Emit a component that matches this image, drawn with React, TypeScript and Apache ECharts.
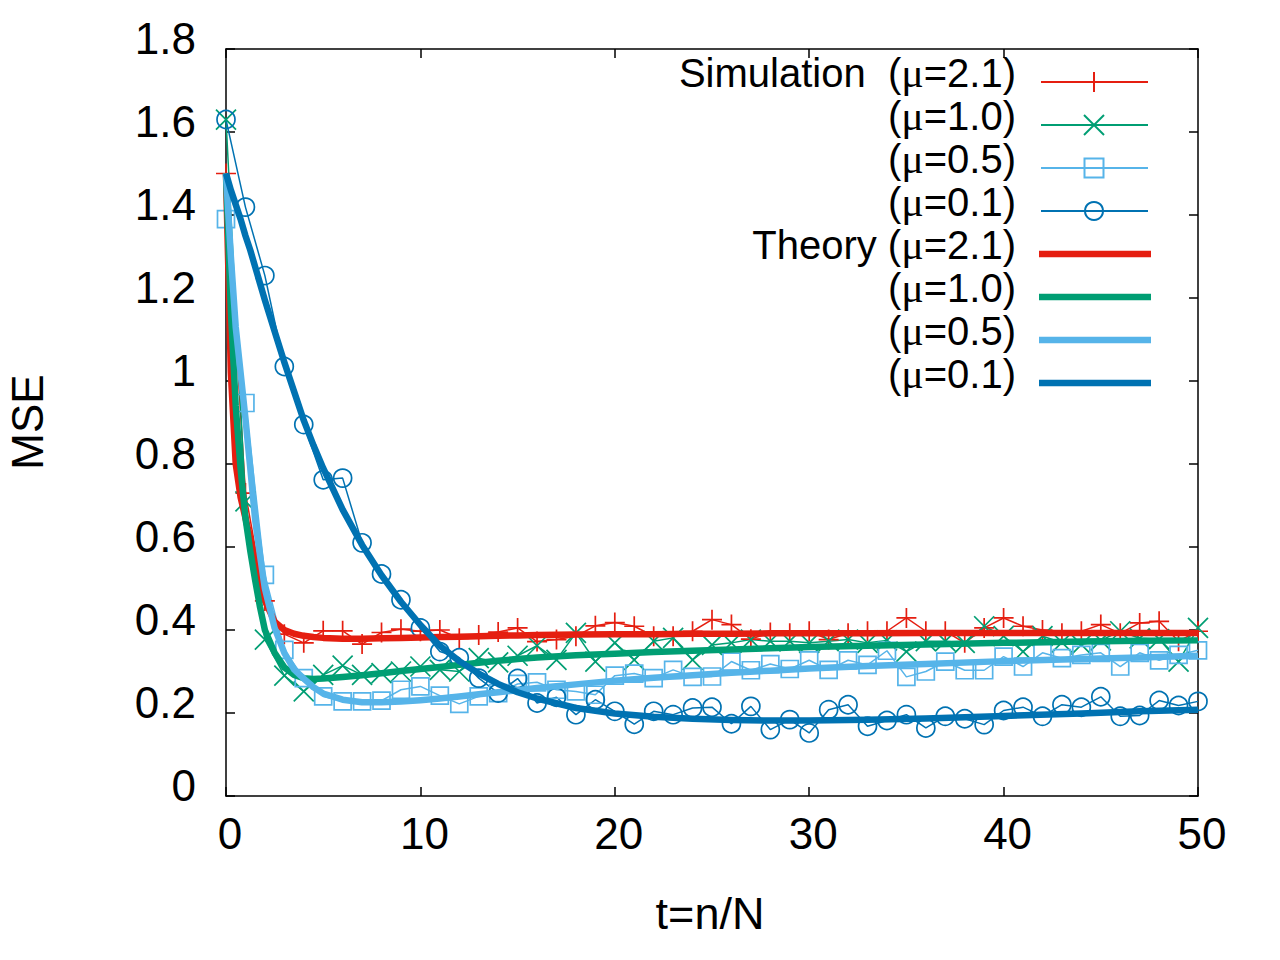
import React, { useEffect, useRef } from "react";
import * as echarts from "echarts";

// ---------- data ----------
const T_SIM = [
  0, 1, 2, 3, 4, 5, 6, 7, 8, 9, 10, 11, 12, 13, 14, 15, 16, 17, 18, 19, 20,
  21, 22, 23, 24, 25, 26, 27, 28, 29, 30, 31, 32, 33, 34, 35, 36, 37, 38, 39,
  40, 41, 42, 43, 44, 45, 46, 47, 48, 49, 50,
];

const SIM_MU21 = [
  1.5, 0.73, 0.47, 0.39, 0.369, 0.398, 0.398, 0.366, 0.394, 0.402, 0.397,
  0.4, 0.38, 0.388, 0.395, 0.405, 0.372, 0.377, 0.385, 0.41, 0.418, 0.409,
  0.385, 0.385, 0.397, 0.425, 0.413, 0.378, 0.394, 0.392, 0.397, 0.377,
  0.392, 0.397, 0.397, 0.429, 0.397, 0.397, 0.369, 0.405, 0.429, 0.409, 0.4,
  0.392, 0.397, 0.413, 0.392, 0.417, 0.421, 0.373, 0.397,
];

const SIM_MU10 = [
  1.63, 0.71, 0.377, 0.29, 0.252, 0.292, 0.314, 0.292, 0.296, 0.3, 0.312,
  0.304, 0.3, 0.332, 0.322, 0.338, 0.362, 0.328, 0.393, 0.324, 0.369, 0.328,
  0.373, 0.381, 0.328, 0.364, 0.369, 0.377, 0.373, 0.373, 0.369, 0.373,
  0.377, 0.369, 0.375, 0.348, 0.373, 0.373, 0.369, 0.409, 0.385, 0.348,
  0.385, 0.37, 0.365, 0.375, 0.397, 0.38, 0.378, 0.324, 0.405,
];

const SIM_MU05 = [
  1.39, 0.947, 0.533, 0.352, 0.284, 0.24, 0.228, 0.228, 0.23, 0.256, 0.264,
  0.242, 0.222, 0.24, 0.248, 0.27, 0.274, 0.256, 0.252, 0.244, 0.29, 0.295,
  0.284, 0.304, 0.287, 0.288, 0.324, 0.303, 0.318, 0.306, 0.327, 0.304,
  0.327, 0.316, 0.35, 0.287, 0.3, 0.324, 0.303, 0.303, 0.336, 0.312, 0.345,
  0.332, 0.34, 0.345, 0.312, 0.345, 0.327, 0.34, 0.351,
];

const SIM_MU01 = [
  1.63, 1.419, 1.254, 1.035, 0.895, 0.762, 0.766, 0.61, 0.535, 0.473, 0.405,
  0.348, 0.333, 0.284, 0.248, 0.283, 0.224, 0.238, 0.196, 0.232, 0.204,
  0.173, 0.204, 0.196, 0.212, 0.214, 0.174, 0.216, 0.16, 0.184, 0.152,
  0.208, 0.22, 0.168, 0.182, 0.196, 0.164, 0.192, 0.186, 0.172, 0.206,
  0.214, 0.192, 0.22, 0.214, 0.239, 0.192, 0.194, 0.23, 0.218, 0.228,
];

const T_TH = [
  0, 0.25, 0.5, 0.75, 1, 1.25, 1.5, 1.75, 2, 2.5, 3, 3.5, 4, 4.5, 5, 6, 7, 8,
  9, 10, 11, 12, 13, 14, 15, 16, 18, 20, 22, 24, 26, 28, 30, 33, 36, 40, 44,
  47, 50,
];

const TH_MU21 = [
  1.5, 1.02, 0.8, 0.72, 0.67, 0.62, 0.565, 0.515, 0.47, 0.42, 0.4, 0.391,
  0.386, 0.383, 0.381, 0.379, 0.379, 0.38, 0.381, 0.382, 0.383, 0.384, 0.385,
  0.386, 0.387, 0.388, 0.389, 0.39, 0.39, 0.391, 0.391, 0.392, 0.392, 0.392,
  0.393, 0.393, 0.393, 0.393, 0.393,
];

const TH_MU10 = [
  1.5, 1.17, 0.94, 0.79, 0.67, 0.59, 0.52, 0.455, 0.4, 0.345, 0.31, 0.292,
  0.284, 0.282, 0.283, 0.287, 0.291, 0.296, 0.301, 0.306, 0.311, 0.316,
  0.321, 0.326, 0.33, 0.334, 0.339, 0.343, 0.347, 0.35, 0.353, 0.356, 0.359,
  0.362, 0.365, 0.369, 0.372, 0.374, 0.375,
];

const TH_MU05 = [
  1.5, 1.3, 1.13, 1.02, 0.91, 0.79, 0.665, 0.58, 0.5, 0.405, 0.345, 0.305,
  0.283, 0.262, 0.247, 0.232, 0.226, 0.226, 0.228, 0.231, 0.235, 0.24, 0.245,
  0.25, 0.255, 0.26, 0.269, 0.278, 0.285, 0.291, 0.297, 0.302, 0.307, 0.313,
  0.318, 0.325, 0.33, 0.334, 0.338,
];

const TH_MU01 = [
  1.5, 1.46, 1.425, 1.39, 1.35, 1.315, 1.275, 1.235, 1.195, 1.12, 1.045,
  0.975, 0.905, 0.845, 0.79, 0.69, 0.605, 0.532, 0.468, 0.412, 0.362, 0.325,
  0.295, 0.27, 0.25, 0.235, 0.212, 0.199, 0.191, 0.186, 0.183, 0.182, 0.182,
  0.184, 0.187, 0.193, 0.199, 0.204, 0.208,
];

// legend labels: prefix, mu value
const LEGEND_PREFIX = ["Simulation  ", "", "", "", "Theory ", "", "", ""];
const LEGEND_MU = ["2.1", "1.0", "0.5", "0.1", "2.1", "1.0", "0.5", "0.1"];

const X_TITLE = "t=n/N";
const Y_TITLE = "MSE";

// ---------- styles ----------
const RED = "#e51e10";
const GREEN = "#009e73";
const LBLUE = "#56b4e9";
const DBLUE = "#0072b2";
const FONT = '"Liberation Sans", Arial, sans-serif';
const SERIF = '"Liberation Serif", "DejaVu Serif", serif';

const PLUS_PATH = "path://M10 0V20M0 10H20";
const CROSS_PATH = "path://M0 0L20 20M20 0L0 20";

function pairs(xs: number[], ys: number[]) {
  return ys.map((y, i) => [xs[i], y]);
}

function simSeries(name: string, ys: number[], color: string, symbol: string, size: number) {
  return {
    name,
    type: "line",
    data: pairs(T_SIM, ys),
    symbol,
    symbolSize: size,
    showAllSymbol: true,
    clip: false,
    z: 2,
    lineStyle: { color, width: 1.5 },
    itemStyle: { color: "none", borderColor: color, borderWidth: 1.7 },
    emphasis: { disabled: true },
  };
}

function theorySeries(name: string, ys: number[], color: string, z: number) {
  return {
    name,
    type: "line",
    data: pairs(T_TH, ys),
    showSymbol: false,
    symbol: "none",
    clip: false,
    z,
    lineStyle: { color, width: 6.5, join: "round" },
    itemStyle: { color },
    emphasis: { disabled: true },
  };
}

function legendGraphics() {
  const rowsY = [82, 125, 168, 211, 254, 297, 340, 383];
  const colors = [RED, GREEN, LBLUE, DBLUE, RED, GREEN, LBLUE, DBLUE];
  const els: any[] = [];
  rowsY.forEach((y, i) => {
    els.push({
      type: "text",
      x: 1016,
      y: y - 9,
      style: {
        text: `{a|${LEGEND_PREFIX[i]}(}{m|\u03bc}{a|=${LEGEND_MU[i]})}`,
        align: "right",
        verticalAlign: "middle",
        rich: {
          a: { fontSize: 40, fontFamily: FONT, fill: "#000" },
          m: { fontSize: 42, fontFamily: SERIF, fill: "#000" },
        },
      },
    });
    const thick = i >= 4;
    els.push({
      type: "line",
      shape: thick ? { x1: 1039, y1: y, x2: 1151, y2: y } : { x1: 1041, y1: y, x2: 1148, y2: y },
      style: { stroke: colors[i], lineWidth: thick ? 6.5 : 2 },
    });
  });
  const cx = 1094;
  els.push({ type: "line", shape: { x1: cx, y1: rowsY[0] - 10, x2: cx, y2: rowsY[0] + 10 }, style: { stroke: RED, lineWidth: 2 } });
  els.push({ type: "line", shape: { x1: cx - 10, y1: rowsY[1] - 10, x2: cx + 10, y2: rowsY[1] + 10 }, style: { stroke: GREEN, lineWidth: 2 } });
  els.push({ type: "line", shape: { x1: cx + 10, y1: rowsY[1] - 10, x2: cx - 10, y2: rowsY[1] + 10 }, style: { stroke: GREEN, lineWidth: 2 } });
  els.push({ type: "rect", shape: { x: cx - 9.5, y: rowsY[2] - 9.5, width: 19, height: 19 }, style: { fill: "none", stroke: LBLUE, lineWidth: 2 } });
  els.push({ type: "circle", shape: { cx, cy: rowsY[3], r: 9 }, style: { fill: "none", stroke: DBLUE, lineWidth: 2 } });
  return els;
}

export default function App() {
  const ref = useRef<HTMLDivElement>(null);

  useEffect(() => {
    if (!ref.current) return;
    const chart = echarts.init(ref.current, undefined, { renderer: "svg" });

    const axisLine = { show: true, onZero: false, lineStyle: { color: "#000", width: 1.5 } };
    const axisTick = { show: true, inside: true, length: 9, lineStyle: { color: "#000", width: 1.5 } };

    const option: any = {
      animation: false,
      backgroundColor: "#fff",
      grid: { left: 226, right: 82, top: 49, bottom: 164, containLabel: false },
      xAxis: [
        {
          type: "value",
          min: 0,
          max: 50,
          interval: 10,
          position: "bottom",
          axisLine,
          axisTick,
          splitLine: { show: false },
          axisLabel: {
            fontSize: 44,
            fontFamily: FONT,
            color: "#000",
            margin: 15,
            lineHeight: 44,
            padding: [0, 0, 0, 8],
          },
        },
        {
          type: "value",
          min: 0,
          max: 50,
          interval: 10,
          position: "top",
          axisLine,
          axisTick,
          splitLine: { show: false },
          axisLabel: { show: false },
        },
      ],
      yAxis: [
        {
          type: "value",
          min: 0,
          max: 1.8,
          interval: 0.2,
          position: "left",
          axisLine,
          axisTick,
          splitLine: { show: false },
          axisLabel: {
            fontSize: 44,
            fontFamily: FONT,
            color: "#000",
            margin: 30,
            verticalAlign: "bottom",
            lineHeight: 22,
          },
        },
        {
          type: "value",
          min: 0,
          max: 1.8,
          interval: 0.2,
          position: "right",
          axisLine,
          axisTick,
          splitLine: { show: false },
          axisLabel: { show: false },
        },
      ],
      series: [
        simSeries("Simulation (μ=2.1)", SIM_MU21, RED, PLUS_PATH, 20),
        simSeries("Simulation (μ=1.0)", SIM_MU10, GREEN, CROSS_PATH, 20),
        simSeries("Simulation (μ=0.5)", SIM_MU05, LBLUE, "rect", 17),
        simSeries("Simulation (μ=0.1)", SIM_MU01, DBLUE, "circle", 18),
        theorySeries("Theory (μ=2.1)", TH_MU21, RED, 3),
        theorySeries("Theory (μ=1.0)", TH_MU10, GREEN, 4),
        theorySeries("Theory (μ=0.5)", TH_MU05, LBLUE, 5),
        theorySeries("Theory (μ=0.1)", TH_MU01, DBLUE, 6),
      ],
      graphic: [
        {
          type: "text",
          x: 27,
          y: 422,
          rotation: Math.PI / 2,
          style: {
            text: Y_TITLE,
            fontSize: 44,
            fontFamily: FONT,
            fill: "#000",
            align: "center",
            verticalAlign: "middle",
          },
        },
        {
          type: "text",
          x: 710,
          y: 913,
          style: {
            text: X_TITLE,
            fontSize: 45,
            fontFamily: FONT,
            fill: "#000",
            align: "center",
            verticalAlign: "middle",
          },
        },
        ...legendGraphics(),
      ],
    };

    chart.setOption(option);
    return () => {
      chart.dispose();
    };
  }, []);

  return (
    <div
      ref={ref}
      style={{ position: "fixed", left: 0, top: 0, width: 1280, height: 960, background: "#fff" }}
    />
  );
}
